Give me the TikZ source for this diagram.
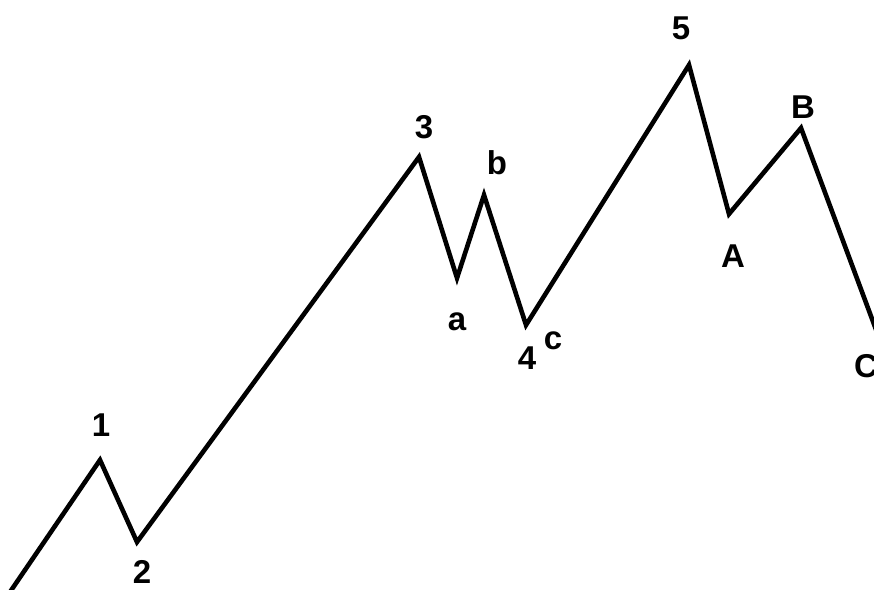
\documentclass[tikz,border=0pt]{standalone}
\usepackage{fontspec}
\setmainfont{Liberation Sans}
\begin{document}
\begin{tikzpicture}[x=1pt,y=-1pt,
  wave/.style={line width=4.6pt,line join=miter,black},
  lbl/.style={font=\bfseries\fontsize{33}{33}\selectfont,inner sep=0pt,anchor=center}]
\useasboundingbox (0,0) rectangle (874,589);
\clip (0,0) rectangle (874,589);
\fill[white] (0,0) rectangle (874,589);
\coordinate (s) at (10,592);
\coordinate (p1) at (100,460);
\coordinate (p2) at (137,542);
\coordinate (p3) at (419,157);
\coordinate (pa) at (457,278);
\coordinate (pb) at (484,195);
\coordinate (p4) at (526,325);
\coordinate (p5) at (689,65);
\coordinate (pA) at (729,214);
\coordinate (pB) at (801,128);
\coordinate (pC) at (878,335);
\draw[wave] (s) -- (p1) -- (p2) -- (p3) -- (pa) -- (pb) -- (p4) -- (p5) -- (pA) -- (pB) -- (pC);
\node[lbl] (l1) at (101,425) {1};
\node[lbl] (l2) at (142,572) {2};
\node[lbl] (l3) at (424,127) {3};
\node[lbl] (la) at (457,322) {a};
\node[lbl] (lb) at (497,163) {b};
\node[lbl] (l4) at (527,358) {4};
\node[lbl] (lc) at (553,341) {c};
\node[lbl] (l5) at (681,28) {5};
\node[lbl] (lA) at (733,256) {A};
\node[lbl] (lB) at (803,107) {B};
\node[lbl] (lC) at (866,366) {C};
\end{tikzpicture}
\end{document}
